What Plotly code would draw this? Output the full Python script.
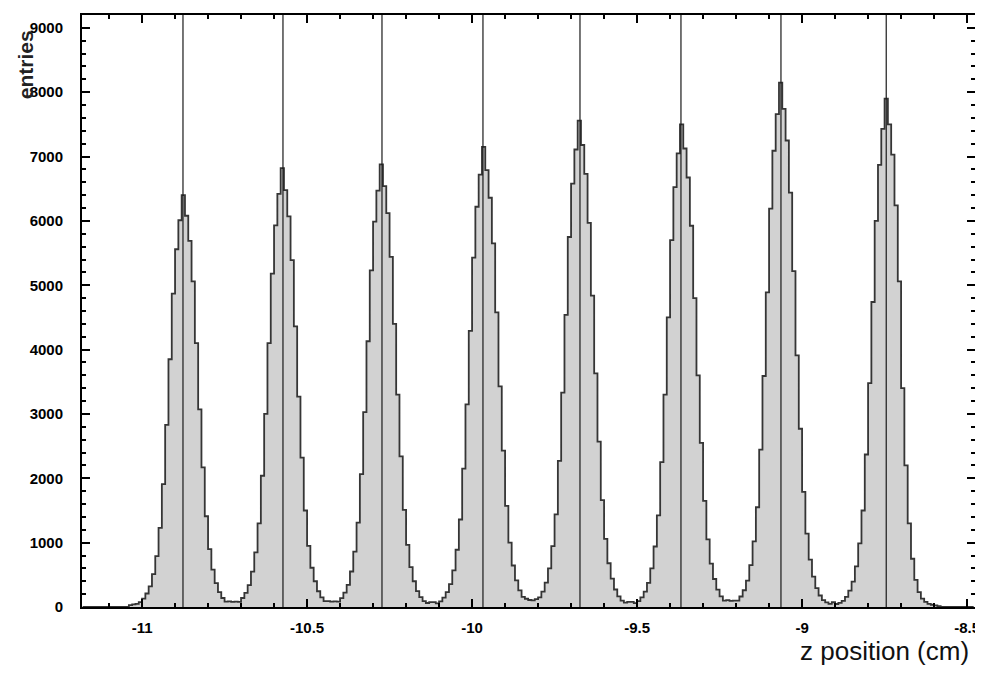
import plotly.graph_objects as go

# ---------------- data ----------------
BIN_START = -11.18      # first bin edge (cm)
BIN_WIDTH = 0.01        # cm
N_BINS = 270

# centres of the eight peaks (cm)
peak_centres = [-10.875, -10.575, -10.275, -9.965, -9.675, -9.365, -9.065, -8.745]

# entries per bin for each peak, offsets -16 .. +16 bins around its centre
peak1 = [30, 40, 50, 75, 130, 210, 320, 510, 790, 1230, 1910, 2830, 3850, 4870, 5560, 6010, 6400,
         6080, 5690, 5060, 4100, 3070, 2170, 1410, 900, 580, 370, 230, 140, 85, 55, 38, 30]
peak2 = [32, 42, 55, 80, 140, 220, 340, 550, 850, 1300, 2040, 3000, 4100, 5180, 5930, 6420, 6820,
         6480, 6070, 5390, 4360, 3270, 2320, 1500, 950, 610, 400, 245, 150, 90, 60, 40, 32]
peak3 = [32, 42, 56, 82, 138, 222, 345, 552, 860, 1310, 2065, 3030, 4130, 5230, 5990, 6470, 6880,
         6540, 6120, 5440, 4400, 3300, 2340, 1510, 965, 620, 400, 248, 152, 90, 62, 42, 32]
peak4 = [33, 43, 57, 86, 145, 230, 355, 570, 890, 1360, 2150, 3150, 4290, 5430, 6220, 6720, 7150,
         6790, 6360, 5650, 4580, 3430, 2430, 1570, 1000, 645, 415, 258, 157, 93, 64, 43, 33]
peak5 = [35, 45, 60, 90, 150, 240, 380, 600, 945, 1440, 2270, 3330, 4540, 5750, 6580, 7110, 7560,
         7180, 6730, 5970, 4840, 3630, 2570, 1660, 1060, 680, 440, 272, 166, 98, 68, 45, 35]
peak6 = [35, 45, 60, 90, 150, 240, 375, 600, 940, 1425, 2250, 3300, 4500, 5700, 6525, 7050, 7500,
         7125, 6675, 5925, 4800, 3600, 2550, 1650, 1050, 675, 435, 270, 165, 98, 68, 45, 35]
peak7 = [38, 49, 65, 98, 163, 260, 410, 650, 1020, 1550, 2445, 3590, 4890, 6190, 7090, 7660, 8150,
         7740, 7250, 6440, 5220, 3910, 2770, 1790, 1140, 735, 473, 293, 179, 106, 73, 49, 38]
peak8 = [36, 47, 63, 95, 158, 253, 395, 630, 990, 1500, 2370, 3480, 4740, 6000, 6870, 7430, 7900,
         7500, 7030, 6240, 5060, 3400, 2200, 1300, 750, 420, 230, 130, 80, 50, 35, 25, 15]
peaks = [peak1, peak2, peak3, peak4, peak5, peak6, peak7, peak8]

# nominal positions marked by the thin vertical lines (cm)
marker_positions = [-10.876, -10.573, -10.273, -9.967, -9.673, -9.367, -9.064, -8.745]

x_tick_vals = [-11, -10.5, -10, -9.5, -9, -8.5]
x_tick_text = ["-11", "-10.5", "-10", "-9.5", "-9", "-8.5"]
y_tick_vals = [0, 1000, 2000, 3000, 4000, 5000, 6000, 7000, 8000, 9000]
y_tick_text = ["0", "1000", "2000", "3000", "4000", "5000", "6000", "7000", "8000", "9000"]

X_RANGE = [-11.182, -8.476]
Y_MAX = 9200

# ---------------- build histogram ----------------
edges = [BIN_START + i * BIN_WIDTH for i in range(N_BINS + 1)]
counts = [0.0] * N_BINS
for c, prof in zip(peak_centres, peaks):
    ic = int(round((c - (BIN_START + BIN_WIDTH / 2)) / BIN_WIDTH))
    half = len(prof) // 2
    for k, v in enumerate(prof):
        j = ic - half + k
        if 0 <= j < N_BINS:
            counts[j] += v

step_x = edges[:]
step_y = counts + [counts[-1]]

fig = go.Figure()
fig.add_trace(go.Scatter(
    x=step_x, y=step_y, mode="lines", line_shape="hv",
    line=dict(color="#353535", width=1.8),
    fill="tozeroy", fillcolor="#d2d2d2",
    hoverinfo="skip", showlegend=False))

vx, vy = [], []
for p in marker_positions:
    vx += [p, p, None]
    vy += [0, Y_MAX, None]
fig.add_trace(go.Scatter(x=vx, y=vy, mode="lines",
                         line=dict(color="#1a1a1a", width=1.2),
                         hoverinfo="skip", showlegend=False))

tick_font = dict(family="Liberation Sans, Arial, sans-serif", size=15, color="black", weight=700)

# the page body adds an 8 px offset; margins compensate so the plot frame
# lands at x 82..975, y 13..607 of the window
fig.update_layout(
    width=990, height=665,
    margin=dict(l=74, r=23, t=5, b=66),
    paper_bgcolor="white", plot_bgcolor="white",
    xaxis=dict(range=X_RANGE, tickvals=x_tick_vals, ticktext=x_tick_text,
               ticks="inside", ticklen=8, tickwidth=1.5, tickcolor="black",
               minor=dict(ticks="inside", ticklen=4, dtick=0.1, tick0=-11, tickcolor="black"),
               showline=True, linecolor="black", linewidth=2, mirror="allticks",
               showgrid=False, zeroline=False, tickfont=tick_font, ticklabelstandoff=6),
    yaxis=dict(range=[0, Y_MAX], tickvals=y_tick_vals, ticktext=y_tick_text,
               ticks="inside", ticklen=8, tickwidth=1.5, tickcolor="black",
               minor=dict(ticks="inside", ticklen=4, dtick=200, tick0=0, tickcolor="black"),
               showline=True, linecolor="black", linewidth=2, mirror="allticks",
               showgrid=False, zeroline=False, tickfont=tick_font, ticklabelstandoff=14),
    annotations=[
        dict(text="z position (cm)", xref="paper", yref="paper", x=0.995, y=-0.075,
             xanchor="right", yanchor="middle", showarrow=False,
             font=dict(family="Liberation Sans, Arial, sans-serif", size=26, color="#111")),
        dict(text="entries", xref="paper", yref="paper", x=-0.064, y=0.855,
             xanchor="center", yanchor="bottom", textangle=-90, showarrow=False,
             font=dict(family="Liberation Sans, Arial, sans-serif", size=21, color="#222", weight=700)),
    ],
)

fig.write_html("out.html")
